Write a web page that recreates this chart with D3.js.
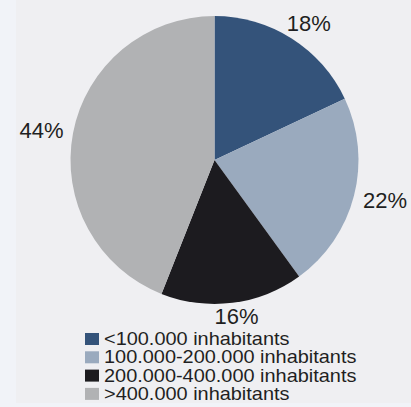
<!DOCTYPE html>
<html>
<head>
<meta charset="utf-8">
<script src="https://cdn.jsdelivr.net/npm/d3@7/dist/d3.min.js"></script>
<style>
  html, body { margin: 0; padding: 0; background: #f1f3f8; }
  svg { display: block; }
  text { font-family: "Liberation Sans", Arial, sans-serif; fill: #1f1f22; }
</style>
</head>
<body>
<svg id="chart" width="411" height="407"></svg>
<script>
// Share of population by city size
const categories = [
  "<100.000 inhabitants",
  "100.000-200.000 inhabitants",
  "200.000-400.000 inhabitants",
  ">400.000 inhabitants"
];
const shares = [18, 22, 16, 44];
const labels = ["18%", "22%", "16%", "44%"];
const colors = ["#34537a", "#9aaabe", "#1c1b1f", "#b1b2b4"];

const W = 411, H = 407;
const svg = d3.select("#chart");

// plot panel
svg.append("rect").attr("x", 0).attr("y", 0).attr("width", W).attr("height", H).attr("fill", "#f1f3f8");
svg.append("rect").attr("x", 16).attr("y", 0).attr("width", W - 16).attr("height", 403).attr("fill", "#efeff2");

const cx = 214.5, cy = 160, r = 144;
const data = categories.map((c, i) => ({ cat: c, value: shares[i], label: labels[i], color: colors[i] }));

const pie = d3.pie().value(d => d.value).sort(null);
const arc = d3.arc().innerRadius(0).outerRadius(r);
const arcs = pie(data);

const g = svg.append("g").attr("transform", `translate(${cx},${cy})`);
g.selectAll("path.slice")
  .data(arcs)
  .join("path")
  .attr("class", "slice")
  .attr("d", arc)
  .attr("fill", d => d.data.color);

// legend layout
const legendX = 85, legendY = 345, rowStep = 18.3, legendFont = 17.8;

// percentage labels placed just outside the rim, pushed out by half their box,
// and kept clear of the legend below
const halfW = 22, halfH = 8, gap = 10;
const maxBaseline = legendY - cy - legendFont * 0.92 - 5;
g.selectAll("text.pct")
  .data(arcs)
  .join("text")
  .attr("class", "pct")
  .attr("text-anchor", "middle")
  .style("font-size", "22px")
  .attr("x", d => {
    const a = (d.startAngle + d.endAngle) / 2;
    return Math.sin(a) * (r + gap) + halfW * Math.sin(a);
  })
  .attr("y", d => {
    const a = (d.startAngle + d.endAngle) / 2;
    const y = -Math.cos(a) * (r + gap) - halfH * Math.cos(a) + halfH;
    return Math.min(y, maxBaseline);
  })
  .text(d => d.data.label);

// legend
const legend = svg.append("g").attr("transform", `translate(${legendX},${legendY})`);
const rows = legend.selectAll("g.row")
  .data(data)
  .join("g")
  .attr("class", "row")
  .attr("transform", (d, i) => `translate(0,${i * rowStep})`);
rows.append("rect")
  .attr("x", 0).attr("y", -12)
  .attr("width", 14).attr("height", 12)
  .attr("fill", d => d.color);
rows.append("text")
  .attr("transform", "translate(19,0) scale(1.12,1)")
  .style("font-size", legendFont + "px")
  .text(d => d.cat);
</script>
</body>
</html>
